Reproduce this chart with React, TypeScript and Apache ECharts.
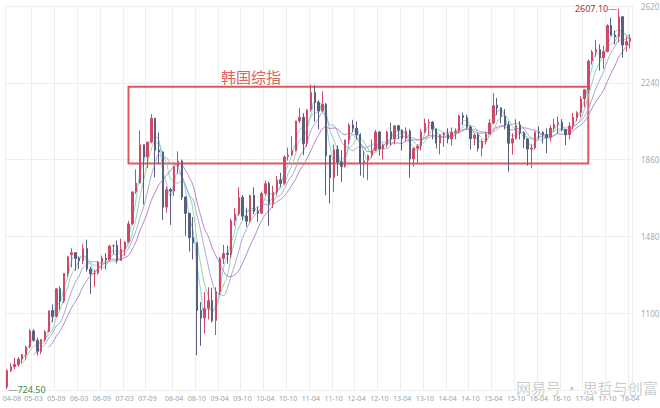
import { useEffect, useRef } from 'react'
import * as echarts from 'echarts'

// monthly candles, [open, close, low, high]
const k2004 = [
  [735, 816, 724.5, 822], [816, 835, 808, 852], [836, 846, 823, 880], [846, 873, 835, 883], [873, 896, 851, 898],
]
const k2005 = [
  [893, 933, 870, 937], [934, 1012, 926, 1022], [1012, 966, 958, 1022], [965, 912, 891, 980],
  [911, 970, 897, 972], [970, 1009, 960, 1016], [1009, 1112, 1005, 1112], [1113, 1084, 1056, 1143],
  [1084, 1221, 1080, 1221], [1222, 1159, 1117, 1234], [1160, 1297, 1150, 1297], [1298, 1379, 1280, 1384],
]
const k2006 = [
  [1389, 1399, 1327, 1421], [1400, 1371, 1310, 1402], [1372, 1359, 1318, 1380], [1360, 1419, 1343, 1441],
  [1420, 1318, 1305, 1464], [1318, 1295, 1195, 1330], [1296, 1297, 1230, 1315], [1298, 1352, 1290, 1359],
  [1352, 1371, 1314, 1385], [1372, 1364, 1316, 1397], [1365, 1432, 1360, 1438], [1433, 1434, 1393, 1440],
]
const k2007 = [
  [1435, 1360, 1345, 1460], [1361, 1417, 1360, 1470], [1418, 1452, 1384, 1456], [1453, 1542, 1450, 1557],
  [1543, 1700, 1535, 1702], [1701, 1743, 1690, 1811], [1744, 1933, 1742, 2004], [1934, 1873, 1638, 1934],
  [1874, 1946, 1818, 1949], [1947, 2064, 1940, 2085], [2065, 1906, 1772, 2065], [1907, 1897, 1840, 1994],
]
const k2008 = [
  [1898, 1624, 1562, 1900], [1625, 1711, 1598, 1726], [1712, 1704, 1537, 1720], [1705, 1825, 1680, 1830],
  [1826, 1852, 1790, 1901], [1853, 1674, 1660, 1860], [1675, 1594, 1483, 1679], [1595, 1474, 1405, 1596],
  [1475, 1448, 1366, 1575], [1449, 1113, 892, 1449], [1114, 1076, 939, 1155], [1077, 1124, 1000, 1205],
]
const k2009 = [
  [1125, 1162, 1069, 1228], [1163, 1063, 1054, 1226], [1064, 1206, 992, 1228], [1207, 1369, 1190, 1378],
  [1370, 1395, 1343, 1438], [1396, 1390, 1345, 1435], [1391, 1557, 1372, 1567], [1558, 1591, 1531, 1620],
  [1592, 1673, 1582, 1723], [1674, 1580, 1560, 1685], [1581, 1555, 1528, 1622], [1556, 1682, 1550, 1686],
]
const k2010 = [
  [1683, 1602, 1590, 1723], [1603, 1594, 1552, 1627], [1595, 1692, 1593, 1702], [1693, 1741, 1682, 1757],
  [1742, 1641, 1533, 1752], [1642, 1698, 1620, 1730], [1699, 1759, 1682, 1780], [1760, 1742, 1723, 1795],
  [1743, 1873, 1736, 1881], [1874, 1882, 1855, 1919], [1883, 1904, 1880, 1975], [1905, 2051, 1900, 2052],
]
const k2011 = [
  [2052, 2069, 2040, 2115], [2070, 1939, 1882, 2090], [1940, 2106, 1923, 2110], [2107, 2192, 2097, 2231],
  [2193, 2142, 2048, 2228], [2143, 2100, 2010, 2155], [2101, 2133, 2095, 2198], [2134, 1880, 1684, 2140],
  [1881, 1770, 1644, 1877], [1771, 1909, 1700, 1935], [1910, 1847, 1780, 1931], [1848, 1826, 1750, 1907],
]
const k2012 = [
  [1827, 1956, 1820, 1960], [1957, 2030, 1935, 2040], [2031, 2014, 1995, 2057], [2015, 1982, 1960, 2049],
  [1983, 1843, 1781, 1990], [1844, 1854, 1770, 1905], [1855, 1881, 1758, 1885], [1882, 1905, 1869, 1960],
  [1906, 1996, 1900, 2007], [1997, 1912, 1880, 2002], [1913, 1933, 1860, 1940], [1934, 1997, 1920, 2003],
]
const k2013 = [
  [1998, 1962, 1930, 2042], [1963, 2027, 1935, 2030], [2028, 2005, 1960, 2026], [2006, 1964, 1905, 2010],
  [1965, 2001, 1950, 2020], [2002, 1863, 1770, 2010], [1864, 1915, 1825, 1920], [1916, 1926, 1845, 1935],
  [1927, 1997, 1905, 2010], [1998, 2040, 1990, 2063], [2041, 2045, 1980, 2060], [2046, 2011, 1960, 2050],
]
const k2014 = [
  [2012, 1941, 1915, 2015], [1942, 1980, 1886, 1985], [1981, 1986, 1923, 1995], [1987, 1962, 1940, 2015],
  [1963, 1995, 1930, 2019], [1996, 2002, 1960, 2015], [2003, 2076, 1990, 2082], [2077, 2068, 2030, 2093],
  [2069, 2020, 2010, 2083], [2021, 1964, 1910, 2030], [1965, 1981, 1930, 1991], [1982, 1916, 1900, 1990],
]
const k2015 = [
  [1917, 1949, 1876, 1960], [1950, 1986, 1935, 1998], [1987, 2041, 1982, 2060], [2042, 2127, 2035, 2189],
  [2128, 2115, 2080, 2165], [2116, 2074, 2040, 2110], [2075, 2030, 2009, 2110], [2031, 1941, 1800, 2050],
  [1942, 1963, 1885, 1990], [1964, 2029, 1960, 2060], [2030, 1992, 1960, 2050], [1993, 1961, 1918, 2000],
]
const k2016 = [
  [1962, 1912, 1830, 1965], [1913, 1917, 1817, 1935], [1918, 1996, 1910, 2000], [1997, 1994, 1960, 2025],
  [1995, 1983, 1940, 2000], [1984, 1970, 1892, 2015], [1971, 2016, 1950, 2030], [2017, 2035, 2000, 2063],
  [2036, 2044, 1990, 2073], [2045, 2008, 2000, 2060], [2009, 1983, 1931, 2010], [1984, 2026, 1960, 2045],
]
const k2017 = [
  [2027, 2068, 2010, 2090], [2069, 2092, 2050, 2099], [2093, 2160, 2070, 2174], [2161, 2205, 2120, 2210],
  [2206, 2347, 2200, 2355], [2348, 2392, 2330, 2402], [2393, 2403, 2370, 2453], [2404, 2363, 2300, 2430],
  [2364, 2394, 2310, 2424], [2395, 2523, 2390, 2530], [2524, 2476, 2470, 2562], [2477, 2467, 2430, 2500],
]
const k2018 = [
  [2468, 2566, 2440, 2607.1], [2567, 2427, 2364, 2570], [2428, 2445, 2394, 2470], [2446, 2460, 2410, 2480],
]

const candles = [
  ...k2004, ...k2005, ...k2006, ...k2007, ...k2008, ...k2009, ...k2010,
  ...k2011, ...k2012, ...k2013, ...k2014, ...k2015, ...k2016, ...k2017, ...k2018,
]

const months: string[] = []
for (let i = 0; i < candles.length; i++) {
  const m = 7 + i // Aug 2004 = index 0
  const yy = 4 + Math.floor(m / 12)
  const mm = (m % 12) + 1
  months.push(String(yy).padStart(2, '0') + '-' + String(mm).padStart(2, '0'))
}

const tickLabels = [
  '04-08', '05-03', '05-09', '06-03', '06-09', '07-03', '07-09', '08-04', '08-10', '09-04',
  '09-10', '10-04', '10-10', '11-04', '11-10', '12-04', '12-10', '13-04', '13-10', '14-04',
  '14-10', '15-04', '15-10', '16-04', '16-10', '17-04', '17-10', '18-04',
]
const yTicks = [1100, 1480, 1860, 2240, 2620]

const maPeriods = [3, 5, 8, 12]
const maColors = ['#86cfe6', '#93d2a6', '#9fa9d8', '#b584c6']

// box around the 2007-2017 range
const boxFrom = { month: '07-04', value: 1841 }
const boxTo = { month: '17-05', value: 2221 }

function movingAverage(n: number) {
  return candles.map((_, i) => {
    if (i < n - 1) return '-'
    let s = 0
    for (let j = i - n + 1; j <= i; j++) s += candles[j][1]
    return +(s / n).toFixed(2)
  })
}

export default function App() {
  const ref = useRef<HTMLDivElement | null>(null)
  useEffect(() => {
    document.body.style.margin = '0'
    if (!ref.current) return
    const chart = echarts.init(ref.current, undefined, { renderer: 'svg' })
    const showTick = (_i: number, v: string) => tickLabels.includes(v)
    chart.setOption({
      animation: false,
      textStyle: { fontFamily: '"Noto Sans", "Noto Sans CJK SC", sans-serif' },
      title: {
        text: '韩国综指',
        left: 216,
        top: 64,
        textStyle: { color: '#e06262', fontSize: 15, fontWeight: 'normal', fontFamily: '"Noto Sans CJK SC", sans-serif' },
      },
      grid: { left: 5, right: 28, top: 6, bottom: 18, outerBoundsMode: 'none' },
      xAxis: {
        type: 'category',
        data: months,
        boundaryGap: true,
        axisLine: { show: false },
        axisTick: { show: false },
        axisLabel: {
          interval: showTick,
          showMinLabel: true,
          color: '#a0a0a0',
          fontSize: 7,
          margin: 5,
          hideOverlap: false,
          formatter: (v: string) => (v === months[0] ? '{first|' + v + '}' : v),
          rich: { first: { fontSize: 7, color: '#a0a0a0', padding: [0, 0, 0, 10] } },
        },
        splitLine: { show: true, interval: showTick, lineStyle: { color: '#eeeeee', width: 1 } },
      },
      yAxis: {
        type: 'value',
        position: 'right',
        min: yTicks[0] - 380,
        max: yTicks[yTicks.length - 1],
        interval: 380,
        axisLine: { show: false },
        axisTick: { show: false },
        axisLabel: { color: '#aaaaaa', fontSize: 8, margin: 9, showMinLabel: false, formatter: (v: number) => String(v) },
        splitLine: { lineStyle: { color: '#eeeeee' } },
      },
      series: [
        {
          type: 'candlestick',
          data: candles,
          barMaxWidth: 2.4,
          itemStyle: { color: '#cf4a68', color0: '#5a5f7e', borderColor: '#cf4a68', borderColor0: '#5a5f7e', borderWidth: 1 },
          markPoint: {
            symbol: 'circle',
            symbolSize: 1,
            itemStyle: { color: 'rgba(0,0,0,0)' },
            data: [
              {
                type: 'max',
                valueDim: 'highest',
                label: { show: true, position: 'left', distance: 1, color: '#a8323f', fontSize: 9, formatter: (p: any) => Number(p.value).toFixed(2) + '—' },
              },
              {
                type: 'min',
                valueDim: 'lowest',
                label: { show: true, position: 'right', distance: 1, color: '#3c8a44', fontSize: 9, formatter: (p: any) => '—' + Number(p.value).toFixed(2) },
              },
            ],
          },
          markArea: {
            silent: true,
            itemStyle: { color: 'rgba(0,0,0,0)', borderColor: '#dc5a5e', borderWidth: 2 },
            data: [[{ xAxis: boxFrom.month, yAxis: boxFrom.value }, { xAxis: boxTo.month, yAxis: boxTo.value }]],
          },
        },
        ...maPeriods.map((n, k) => ({
          type: 'line',
          name: 'MA' + n,
          data: movingAverage(n),
          smooth: true,
          showSymbol: false,
          lineStyle: { width: 1, color: maColors[k] },
          z: 1,
        })),
      ],
      graphic: [
        {
          type: 'text',
          left: 516,
          top: 380,
          silent: true,
          style: { text: '网易号 · 思哲与创富', fill: 'rgba(120,120,120,0.4)', font: '15px "Noto Sans CJK SC", sans-serif' },
        },
      ],
    })
    return () => chart.dispose()
  }, [])

  return <div ref={ref} style={{ width: 660, height: 408 }} />
}
